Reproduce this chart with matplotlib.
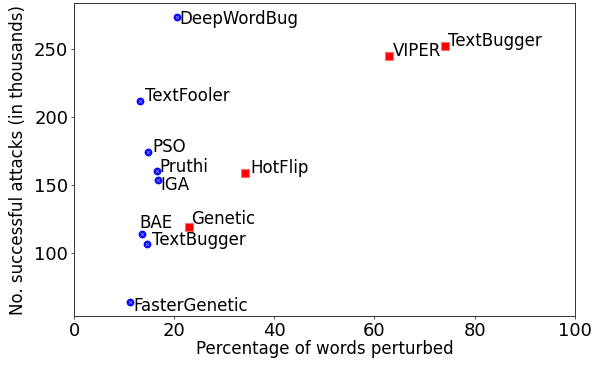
import matplotlib
matplotlib.use('Agg')
import matplotlib.pyplot as plt

# blue: word-level attacks, red: char-level
blue_names = ['DeepWordBug', 'TextFooler', 'PSO', 'Pruthi', 'IGA', 'BAE', 'TextBugger', 'FasterGenetic']
blue_x = [20.5, 13.1, 14.7, 16.5, 16.7, 13.5, 14.6, 11.1]
blue_y = [273.0, 211.5, 174.0, 160.5, 153.2, 114.0, 106.6, 64.2]

red_names = ['Genetic', 'HotFlip', 'VIPER', 'TextBugger']
red_x = [22.9, 34.1, 62.9, 74.1]
red_y = [119.3, 158.5, 244.6, 251.9]

# label offsets in pixels (dx right, dy up), text baseline-aligned
blue_off = [(3, -7), (5, 0), (5, 0), (3, -1), (3, -10), (-2, 6), (5, -1), (4, -9)]
red_off = [(2, 3), (6, 0), (4, 0), (3, 0)]

fig, ax = plt.subplots(figsize=(5.92, 3.9), dpi=100)
fig.subplots_adjust(left=0.125, right=0.971, top=0.992, bottom=0.19)

ax.scatter(blue_x, blue_y, marker='o', s=26, color='blue', edgecolors='blue',
           linewidths=0.5, zorder=3)
ax.scatter(blue_x, blue_y, marker='x', s=7, color='white', linewidths=0.5,
           alpha=0.6, zorder=4)
ax.scatter(red_x, red_y, marker='s', s=28, color='red', edgecolors='#ff7070',
           linewidths=0.8, zorder=3)

pt = 72 / fig.dpi
for names, xs, ys, offs in [(blue_names, blue_x, blue_y, blue_off),
                            (red_names, red_x, red_y, red_off)]:
    for name, x, y, (dx, dy) in zip(names, xs, ys, offs):
        ax.annotate(name, (x, y), xytext=(dx * pt, dy * pt), textcoords='offset points',
                    fontsize=12, ha='left', va='baseline')

ax.set_xlim(0, 100)
ax.set_xticks([0, 20, 40, 60, 80, 100])
ax.set_yticks([100, 150, 200, 250])
ax.tick_params(labelsize=13, length=2.4, width=0.6, pad=1.8, color='#333333')
for sp in ax.spines.values():
    sp.set_linewidth(0.7)
    sp.set_color('#333333')
ax.set_xlabel('Percentage of words perturbed', fontsize=12, labelpad=0)
ax.set_ylabel('No. successful attacks (in thousands)', fontsize=12, labelpad=5)

plt.savefig('out.png', dpi=100)
